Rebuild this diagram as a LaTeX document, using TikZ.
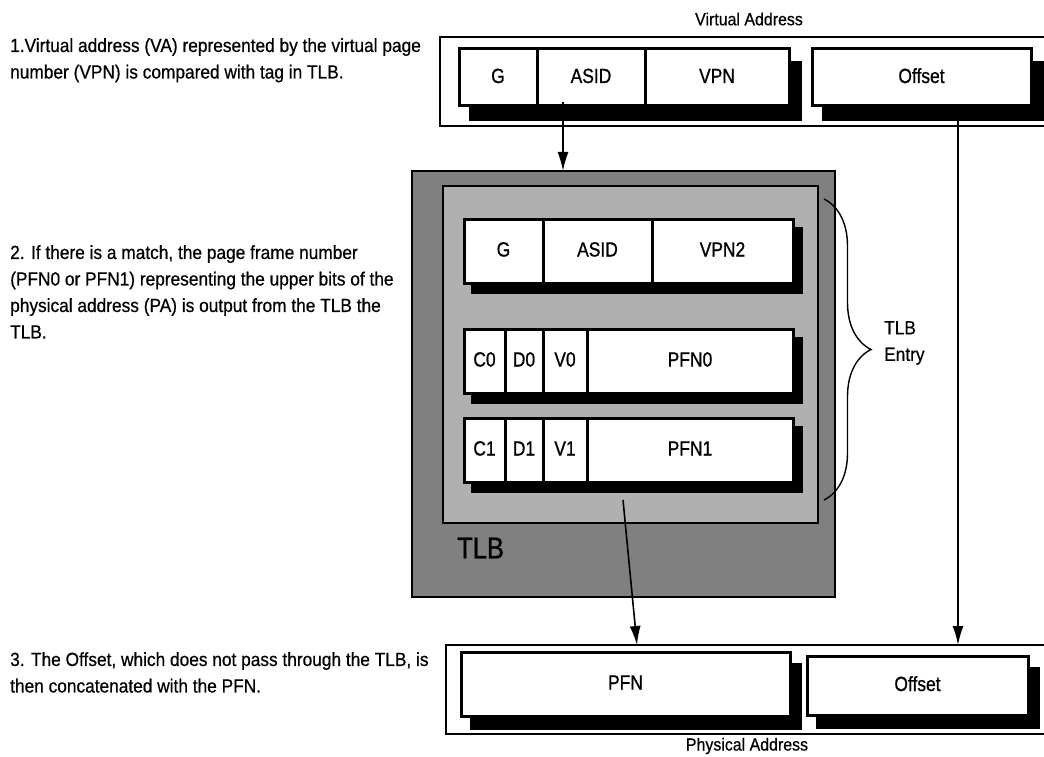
\documentclass[tikz,border=0pt]{standalone}
\usepackage{fontspec}
\setmainfont{Liberation Sans}[FakeStretch=0.91,FakeBold=0.6]
\newfontfamily\boxfont{Liberation Sans}[FakeStretch=0.85,FakeBold=0.9]
\usetikzlibrary{positioning,calc,arrows.meta,decorations.pathreplacing}

\pgfdeclarelayer{back}
\pgfdeclarelayer{shadelayer}
\pgfsetlayers{back,shadelayer,main}

\tikzstyle{field}=[
    rectangle,
    line width=3pt,
    draw=black,
    fill=white,
    outer sep=0pt,
    inner sep=0pt,
    font=\boxfont\fontsize{20.5}{24}\selectfont,
    text height=15pt,
    text depth=4pt
]
\tikzstyle{dropbox}=[
    fill=black,
    draw=black,
    line width=3pt
]
\tikzstyle{addrframe}=[
    rectangle,
    line width=2.2pt,
    draw=black,
    outer sep=0pt,
    inner sep=0pt,
    anchor=north west
]
\tikzstyle{tlbbox}=[
    rectangle,
    line width=2pt,
    draw=black,
    outer sep=0pt,
    inner sep=0pt,
    anchor=north west
]
\tikzstyle{note}=[
    anchor=north west,
    inner sep=0pt,
    align=left,
    font=\fontsize{19}{26.5}\selectfont
]
\tikzstyle{addrname}=[
    inner sep=0pt,
    font=\fontsize{17.5}{21}\selectfont
]
\tikzstyle{wire}=[
    line width=1.6pt,
    -{Latex[length=19pt,width=11pt]}
]

\begin{document}
\begin{tikzpicture}[x=1pt,y=-1pt]
	\useasboundingbox (0,0) rectangle (1044,757);

	% NOTES
	\node[note] (step1) at (10,38) {1.Virtual address (VA) represented by the virtual page\\number (VPN) is compared with tag in TLB.};
	\node[note] (step2) at (10,245) {2. If there is a match, the page frame number\\(PFN0 or PFN1) representing the upper bits of the\\physical address (PA) is output from the TLB the\\TLB.};
	\node[note] (step3) at (10,652) {3. The Offset, which does not pass through the TLB, is\\then concatenated with the PFN.};

	% VIRTUAL ADDRESS
	\node[addrname] (va_name) at (749,19) {Virtual Address};
	\node[addrframe, minimum width=620pt, minimum height=89pt] (va) at (440,37) {};
	\node[field, anchor=north west, minimum width=78pt, minimum height=57pt] (va_g) at (459,49) {G};
	\node[field, minimum width=108pt, minimum height=57pt, right=0pt of va_g] (va_asid) {ASID};
	\node[field, minimum width=144pt, minimum height=57pt, right=0pt of va_asid] (va_vpn) {VPN};
	\node[field, anchor=north west, minimum width=219pt, minimum height=57pt] (va_off) at (812,49) {Offset};

	% TLB
	\begin{pgfonlayer}{back}
	\node[tlbbox, fill=black!50, minimum width=423pt, minimum height=426pt] (tlb) at (412,171) {};
	\node[tlbbox, fill=black!31, minimum width=375pt, minimum height=337pt] (tlb_in) at (443,186) {};
	\end{pgfonlayer}
	\node[anchor=west, inner sep=0pt, font=\boxfont\fontsize{30}{36}\selectfont] (tlb_name) at (457,548) {TLB};

	\node[field, anchor=north west, minimum width=79pt, minimum height=64pt] (e_g) at (464,219) {G};
	\node[field, minimum width=109pt, minimum height=64pt, right=0pt of e_g] (e_asid) {ASID};
	\node[field, minimum width=141pt, minimum height=64pt, right=0pt of e_asid] (e_vpn) {VPN2};

	\node[field, anchor=north west, minimum width=41pt, minimum height=64pt] (e_c0) at (464,329) {C0};
	\node[field, minimum width=38pt, minimum height=64pt, right=0pt of e_c0] (e_d0) {D0};
	\node[field, minimum width=44pt, minimum height=64pt, right=0pt of e_d0] (e_v0) {V0};
	\node[field, minimum width=206pt, minimum height=64pt, right=0pt of e_v0] (e_pfn0) {PFN0};

	\node[field, anchor=north west, minimum width=41pt, minimum height=64pt] (e_c1) at (464,418) {C1};
	\node[field, minimum width=38pt, minimum height=64pt, right=0pt of e_c1] (e_d1) {D1};
	\node[field, minimum width=44pt, minimum height=64pt, right=0pt of e_d1] (e_v1) {V1};
	\node[field, minimum width=206pt, minimum height=64pt, right=0pt of e_v1] (e_pfn1) {PFN1};

	% brace round the entry
	\coordinate (brace_top) at (824,199);
	\coordinate (brace_bot) at (824,500);
	\draw[decorate, decoration={brace, amplitude=47pt}, line width=1.4pt] (brace_top) -- (brace_bot);
	\node[anchor=west, inner sep=0pt, align=left, font=\fontsize{19}{26.5}\selectfont] (entry_name) at (884,343) {TLB\\Entry};

	% PHYSICAL ADDRESS
	\node[addrframe, minimum width=614pt, minimum height=89pt] (pa) at (446,645) {};
	\node[field, anchor=north west, minimum width=329pt, minimum height=64pt] (pa_pfn) at (461,652) {PFN};
	\node[field, anchor=north west, minimum width=221pt, minimum height=59pt] (pa_off) at (807,656) {Offset};
	\node[addrname] (pa_name) at (747,746) {Physical Address};

	% shadows
	\begin{pgfonlayer}{shadelayer}
	\filldraw[dropbox] ($(va_g.north west)+(11,14)$) rectangle ($(va_vpn.south east)+(11,14)$);
	\filldraw[dropbox] ($(va_off.north west)+(11,14)$) rectangle ($(va_off.south east)+(11,14)$);
	\filldraw[dropbox] ($(e_g.north west)+(8,9)$) rectangle ($(e_vpn.south east)+(8,9)$);
	\filldraw[dropbox] ($(e_c0.north west)+(8,9)$) rectangle ($(e_pfn0.south east)+(8,9)$);
	\filldraw[dropbox] ($(e_c1.north west)+(8,9)$) rectangle ($(e_pfn1.south east)+(8,9)$);
	\filldraw[dropbox] ($(pa_pfn.north west)+(10,12)$) rectangle ($(pa_pfn.south east)+(10,12)$);
	\filldraw[dropbox] ($(pa_off.north west)+(10,12)$) rectangle ($(pa_off.south east)+(10,12)$);
	\end{pgfonlayer}

	% CONNECTIONS
	\coordinate (asid_out) at (563,102);
	\coordinate (off_out) at (958,121);
	\coordinate (pfn_out) at (623,500);
	\coordinate (pfn_in) at (637,645);
	\path
	(asid_out) edge[wire] (asid_out |- tlb.north)
	(off_out) edge[wire] (off_out |- pa.north)
	(pfn_out) edge[wire] (pfn_in)
	;
\end{tikzpicture}
\end{document}
